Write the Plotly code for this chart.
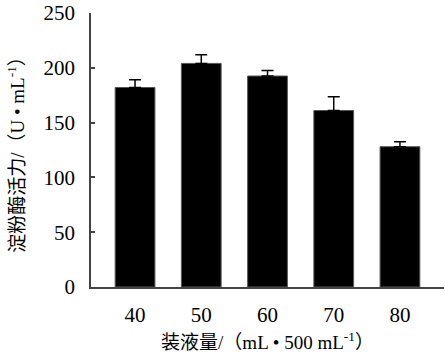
import plotly.graph_objects as go

categories = ["40", "50", "60", "70", "80"]
activity = [182, 204, 192.5, 161, 128]
error = [7, 8, 5, 12.5, 4.5]
y_ticks = [0, 50, 100, 150, 200, 250]

num_font = "Times New Roman"
cjk_font = "Times New Roman, Noto Sans CJK SC"

fig = go.Figure()
fig.add_trace(go.Bar(
    x=categories, y=activity, width=0.6,
    marker=dict(color="black", line=dict(color="#555555", width=1)),
    error_y=dict(type="data", array=error, arrayminus=[0]*len(error),
                 symmetric=False, color="black", thickness=1.5, width=6),
))
fig.update_layout(
    width=445, height=354,
    margin=dict(l=91, r=1, t=11, b=67),
    paper_bgcolor="white", plot_bgcolor="white",
    font=dict(family=num_font, color="black", size=21),
    showlegend=False,
    bargap=0.4,
)
fig.update_xaxes(
    range=[-0.665, 4.665], showline=True, linecolor="#444444", linewidth=1.5,
    ticks="", tickfont=dict(size=21, family=num_font), ticklabelstandoff=8,
    title=dict(text="装液量/（mL • 500 mL<sup>-1</sup>）", font=dict(size=19, family=cjk_font), standoff=10),
)
fig.update_yaxes(
    range=[0, 250], tickvals=y_ticks, showline=True, linecolor="#444444", linewidth=1.5,
    ticks="inside", ticklen=4, tickcolor="#444444", tickwidth=1.5, ticklabeloverflow="allow",
    showgrid=False, zeroline=False, tickfont=dict(size=21, family=num_font), ticklabelstandoff=10,
    title=dict(text="淀粉酶活力/（U • mL<sup>-1</sup>）", font=dict(size=19, family=cjk_font), standoff=14),
)
fig.write_html("out.html")
